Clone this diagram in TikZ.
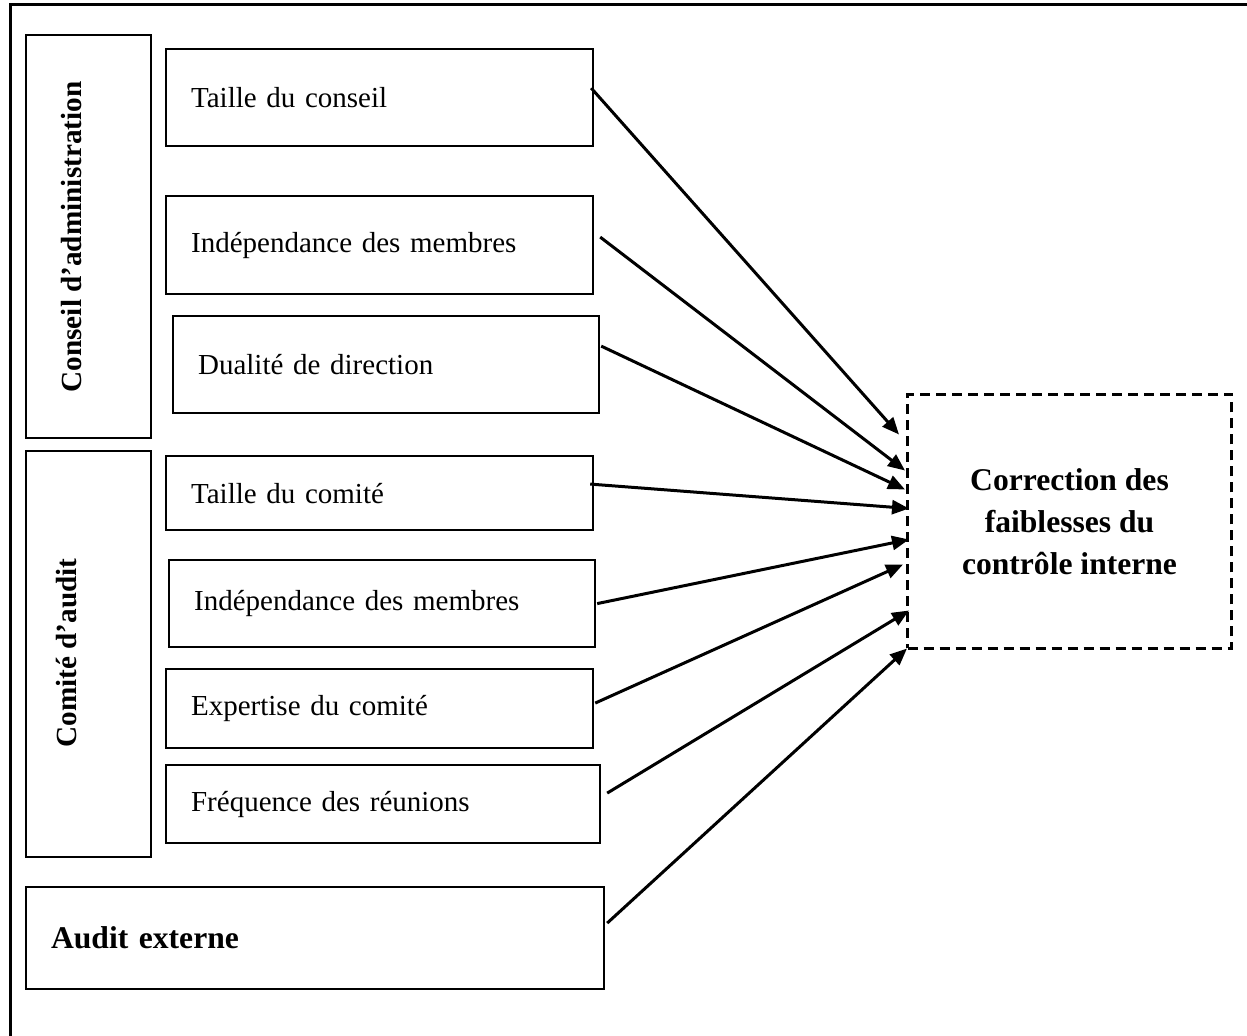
\documentclass[tikz,border=0pt]{standalone}
\usepackage{fontspec}
\setmainfont{Liberation Serif}
\usetikzlibrary{arrows.meta,calc}

\begin{document}
\begin{tikzpicture}[x=0.5pt, y=-0.5pt,
    boite/.style={draw, line width=1.1pt, anchor=north west, inner xsep=12.5pt,
                  align=left, font=\fontsize{14.5pt}{17pt}\selectfont},
    groupe/.style={draw, line width=1.1pt, anchor=north west, minimum width=62.5pt},
    titre/.style={rotate=90, font=\bfseries\fontsize{14.6pt}{17pt}\selectfont},
    fleche/.style={-{Triangle[length=8.5pt,width=7pt]}, line width=1.5pt}]
                    % Cadre
                    \useasboundingbox (0,0) rectangle (1247,1036);
                    \draw[line width=1.5pt] (10,1040) -- (10,5) -- (1250,5);
                    % Conseil d'administration
                    \node[groupe, minimum height=201.5pt] (ca) at (25,34) {};
                    \node[titre] (tca_lbl) at (72,237) {Conseil d’administration};
                    \node[boite, text width=188.5pt, minimum height=48.5pt] (tc) at (165,48) {Taille du conseil};
                    \node[boite, text width=188.5pt, minimum height=49pt] (imca) at (165,195) {Indépendance des membres};
                    \node[boite, text width=188pt, minimum height=48.5pt] (dd) at (172,315) {Dualité de direction};
                    % Comite d'audit
                    \node[groupe, minimum height=203pt] (co) at (25,450) {};
                    \node[titre] (co_lbl) at (67,653) {Comité d’audit};
                    \node[boite, text width=188.5pt, minimum height=37pt] (tca) at (165,455) {Taille du comité};
                    \node[boite, text width=188pt, minimum height=43.5pt] (imco) at (168,559) {Indépendance des membres};
                    \node[boite, text width=188.5pt, minimum height=39.5pt] (ec) at (165,668) {Expertise du comité};
                    \node[boite, text width=192pt, minimum height=39pt] (fr) at (165,764) {Fréquence des réunions};
                    % Audit externe
                    \node[boite, text width=264pt, minimum height=51pt,
                          font=\bfseries\fontsize{15.8pt}{19pt}\selectfont] (ae) at (25,886) {Audit externe};
                    % Correction
                    \node[draw, dash pattern=on 5pt off 3pt, line width=1.5pt, anchor=north west,
                          minimum width=162pt, minimum height=127pt, align=center,
                          font=\bfseries\fontsize{15.8pt}{21pt}\selectfont] (cfci) at (906,393)
                          {Correction des\\faiblesses du\\contrôle interne};
                    % Fleches
                    \draw[fleche] ($(tc.east)+(-3,-9.5)$)   -- ($(cfci.west)+(-7,-87)$);
                    \draw[fleche] ($(imca.east)+(6,-8)$)    -- ($(cfci.west)+(-1,-51)$);
                    \draw[fleche] ($(dd.east)+(1,-18.5)$)   -- ($(cfci.west)+(-1,-32)$);
                    \draw[fleche] ($(tca.east)+(-4,-9)$)    -- ($(cfci.west)+(3,-13)$);
                    \draw[fleche] ($(imco.east)+(1,0)$)     -- ($(cfci.west)+(3,18)$);
                    \draw[fleche] ($(ec.east)+(1,-5.5)$)    -- ($(cfci.west)+(-3,43)$);
                    \draw[fleche] ($(fr.east)+(6,-11)$)     -- ($(cfci.west)+(3,89)$);
                    \draw[fleche] ($(ae.east)+(2,-15)$)     -- ($(cfci.west)+(1,127)$);
\end{tikzpicture}
\end{document}
